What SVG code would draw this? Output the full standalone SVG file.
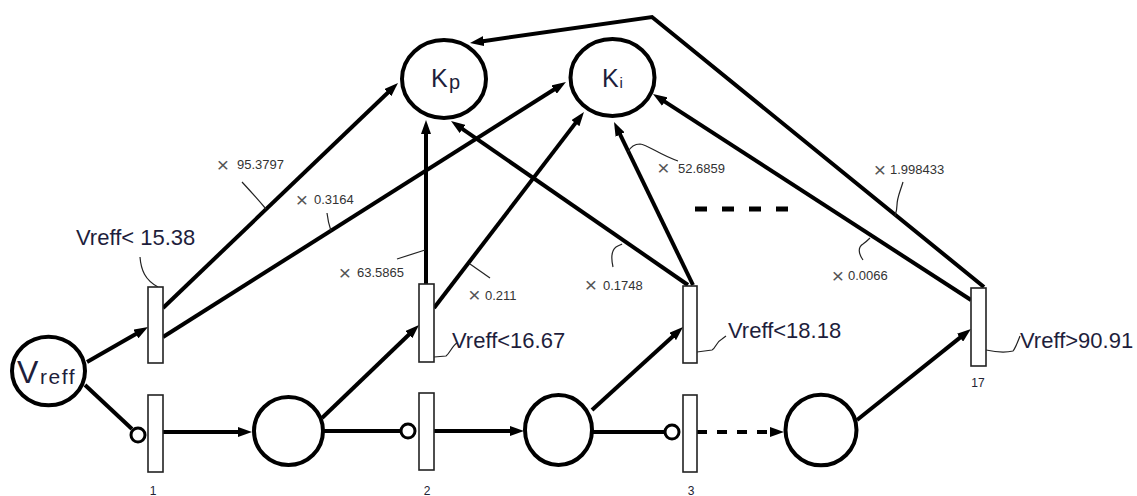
<svg xmlns="http://www.w3.org/2000/svg" width="1137" height="496" viewBox="0 0 1137 496">
<defs>
<marker id="ah" markerUnits="userSpaceOnUse" markerWidth="14" markerHeight="10" viewBox="0 0 14 10" refX="6" refY="5" orient="auto"><path d="M0,0 L14,5 L0,10 z" fill="#000"/></marker>
<style>
.arc{stroke:#000;stroke-width:4;fill:none}
.arr{marker-end:url(#ah)}
.place{fill:#fff;stroke:#000;stroke-width:4}
.bar{fill:#fff;stroke:#222;stroke-width:1.6}
.inh{fill:#fff;stroke:#000;stroke-width:3}
.lead{fill:none;stroke:#222;stroke-width:1.2}
.cond{font-family:"Liberation Sans",Arial,sans-serif;font-size:22px;fill:#1e1e3c}
.x{font-family:"Liberation Sans",Arial,sans-serif;font-size:21px;fill:#555;text-anchor:middle}
.w{font-family:"Liberation Sans",Arial,sans-serif;font-size:13px;fill:#333}
.num{font-family:"Liberation Sans",Arial,sans-serif;font-size:12px;fill:#223;text-anchor:middle}
.big{font-family:"Liberation Sans",Arial,sans-serif;fill:#1e1e3c}
</style>
</defs>
<rect width="1137" height="496" fill="#fff"/>
<g id="connectors">
<path class="arc arr" d="M87,362 L141.1,331"/>
<path class="arc" d="M85,385 L132,429"/>
<path class="arc arr" d="M163,432 L244,432"/>
<path class="arc arr" d="M322,418 L413.2,330.5"/>
<path class="arc" d="M323,431 L400,431"/>
<path class="arc arr" d="M434,431 L516,431"/>
<path class="arc arr" d="M592,410 L677.1,332.4"/>
<path class="arc" d="M593,432 L665,432"/>
<path class="arc arr" d="M697,432 L776,432" stroke-dasharray="10 10"/>
<path class="arc arr" d="M857,420 L964.7,333.9"/>
<path class="arc arr" d="M163,308 L392.2,88.5"/>
<path class="arc arr" d="M163,337 L559.2,86.3"/>
<path class="arc arr" d="M426,284 L426,128"/>
<path class="arc arr" d="M434,308 L579.1,118.4"/>
<path class="arc arr" d="M688,285 L457.6,125.6"/>
<path class="arc arr" d="M693,285 L617.5,129.2"/>
<path class="arc arr" d="M971,300 L659.7,98.4"/>
<path class="arc arr" d="M984,287 L652,17 L477.9,41.9"/>
<path d="M695,209 L790,209" stroke="#000" stroke-width="5" stroke-dasharray="12 15"/>
<g id="leaders">
<path class="lead" d="M242,182 Q255,196 266,209"/>
<path class="lead" d="M327,213 Q328,222 331,231"/>
<path class="lead" d="M397,259 L425,250"/>
<path class="lead" d="M470,264 L490,278"/>
<path class="lead" d="M613,267 C611,258 612,250 616,247 C619,245 621,245 622,244"/>
<path class="lead" d="M678,161 C660,155 648,145 640,144 C634,144 630,148 628,152"/>
<path class="lead" d="M903,182 C900,192 897,198 897,205 C897,210 896,213 895,216"/>
<path class="lead" d="M863,260 C858,253 858,247 863,244 C866,242 868,240 870,238"/>
<path class="lead" d="M140,257 C141,270 145,280 158,287"/>
<path class="lead" d="M434,357 L446,356 C450,353 452,346 457,343"/>
<path class="lead" d="M697,352 L712,350 C716,348 716,342 722,339 L726,336"/>
<path class="lead" d="M986,350 C995,352 1005,353 1013,351 C1016,347 1018,341 1020,336"/>
</g>
<g id="weights">
<text class="x" x="223" y="172">×</text><text class="w" x="237" y="169">95.3797</text>
<text class="x" x="302" y="206.5">×</text><text class="w" x="314" y="204">0.3164</text>
<text class="x" x="345" y="280">×</text><text class="w" x="357" y="277">63.5865</text>
<text class="x" x="474.5" y="302">×</text><text class="w" x="485" y="300">0.211</text>
<text class="x" x="591" y="292">×</text><text class="w" x="603" y="290">0.1748</text>
<text class="x" x="663.5" y="175">×</text><text class="w" x="678" y="173">52.6859</text>
<text class="x" x="880" y="176.5">×</text><text class="w" x="890" y="174">1.998433</text>
<text class="x" x="838" y="282.5">×</text><text class="w" x="848" y="280">0.0066</text>
</g>
</g>
<g id="Kp"><ellipse class="place" cx="444" cy="79" rx="42" ry="39"/><text class="big" x="431" y="87" font-size="25">K</text><text class="big" x="449" y="89" font-size="20">p</text></g>
<g id="Ki"><ellipse class="place" cx="612.5" cy="77.5" rx="42" ry="38.5"/><text class="big" x="602" y="87" font-size="25">K</text><text class="big" x="619.5" y="88" font-size="15">i</text></g>
<g id="Vreff"><ellipse class="place" cx="48.5" cy="371" rx="36.5" ry="34.3"/><text class="big" x="17" y="383" font-size="32">V</text><text class="big" x="40" y="384" font-size="21" letter-spacing="1.5">reff</text></g>
<g id="p1"><ellipse class="place" cx="288.5" cy="431" rx="34.5" ry="34"/></g>
<g id="p2"><ellipse class="place" cx="558.5" cy="430" rx="33.5" ry="35"/></g>
<g id="p3"><ellipse class="place" cx="821" cy="430" rx="35.5" ry="35.3"/></g>
<g id="Ta"><rect class="bar" x="148" y="287" width="15" height="76"/><text class="cond" x="76" y="245">Vreff&lt; 15.38</text></g>
<g id="T1"><rect class="bar" x="148" y="395" width="15" height="77"/><circle class="inh" cx="138" cy="435" r="7"/><text class="num" x="153" y="495">1</text></g>
<g id="T2a"><rect class="bar" x="419" y="284" width="15" height="78"/><text class="cond" x="452" y="348">Vreff&lt;16.67</text></g>
<g id="T2"><rect class="bar" x="419" y="393" width="15" height="77"/><circle class="inh" cx="408" cy="431" r="7"/><text class="num" x="427" y="495">2</text></g>
<g id="T3a"><rect class="bar" x="683" y="286" width="14" height="77"/><text class="cond" x="728" y="338">Vreff&lt;18.18</text></g>
<g id="T3"><rect class="bar" x="683" y="395" width="14" height="77"/><circle class="inh" cx="672" cy="432" r="7"/><text class="num" x="691" y="495">3</text></g>
<g id="T17"><rect class="bar" x="971" y="288" width="15" height="78"/><text class="cond" x="1020" y="348">Vreff&gt;90.91</text><text class="num" x="978" y="387">17</text></g>
</svg>
